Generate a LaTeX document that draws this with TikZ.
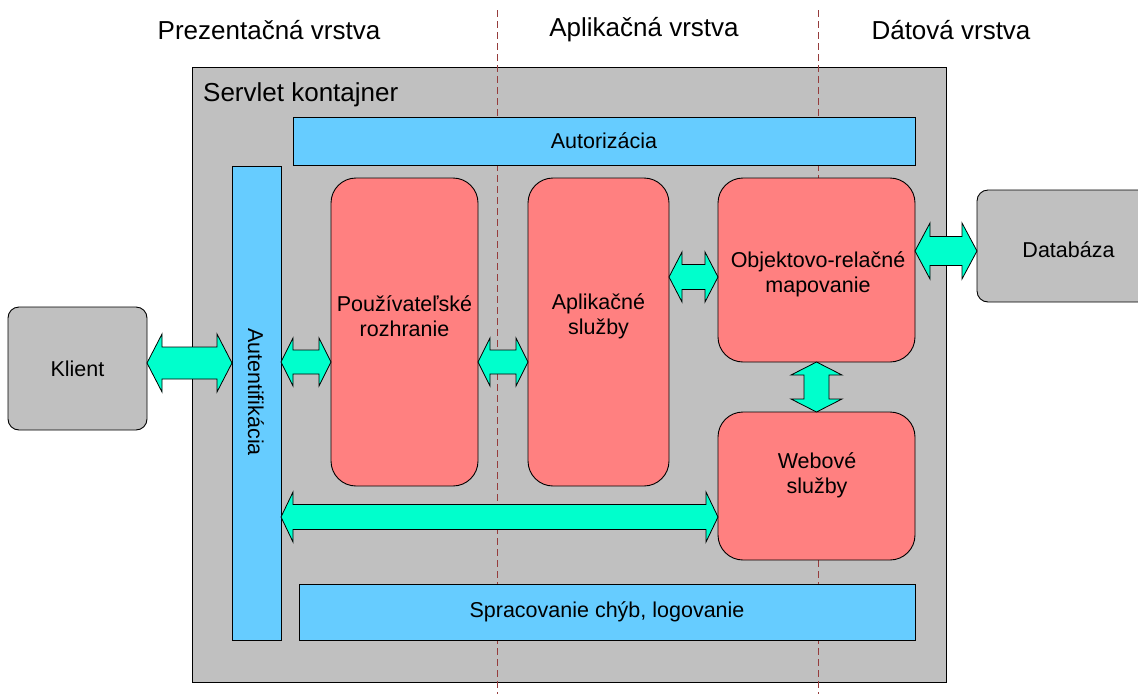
\documentclass[tikz,border=0pt]{standalone}
\usepackage{fontspec}
\setmainfont{Liberation Sans}
\usetikzlibrary{calc}
\definecolor{contgray}{RGB}{192,192,192}
\definecolor{barblue}{RGB}{102,204,255}
\definecolor{modpink}{RGB}{255,128,128}
\definecolor{linkteal}{RGB}{0,255,204}
\definecolor{tierred}{RGB}{150,60,60}
\tikzset{
  box/.style={draw=black, line width=0.9pt, inner sep=0pt, outer sep=0pt,
    align=center, font=\fontsize{21.5}{25}\selectfont},
  container/.style={box, fill=contgray},
  bar/.style={box, fill=barblue},
  module/.style={box, fill=modpink, rounded corners=25pt},
  actor/.style={box, fill=contgray, rounded corners=11pt},
  label/.style={inner sep=0pt, font=\fontsize{21.5}{25}\selectfont, align=center},
  header/.style={inner sep=0pt, font=\fontsize{26}{30}\selectfont},
  tier/.style={draw=tierred, line width=0.9pt, dash pattern=on 7pt off 4pt},
  link/.style={draw=black, line width=0.8pt, fill=linkteal, line join=miter},
  % horizontal double arrow: #1 shaft half width, #2 head half width, #3 head length
  hlink/.style n args={3}{link, to path={
    let \p1=(\tikztostart), \p2=(\tikztotarget) in
    (\x1,\y1) -- (\x1+#3pt,\y1+#2pt) -- (\x1+#3pt,\y1+#1pt)
    -- (\x2-#3pt,\y1+#1pt) -- (\x2-#3pt,\y1+#2pt) -- (\x2,\y1)
    -- (\x2-#3pt,\y1-#2pt) -- (\x2-#3pt,\y1-#1pt)
    -- (\x1+#3pt,\y1-#1pt) -- (\x1+#3pt,\y1-#2pt) -- cycle}},
  % vertical double arrow, start above target
  vlink/.style n args={3}{link, to path={
    let \p1=(\tikztostart), \p2=(\tikztotarget) in
    (\x1,\y1) -- (\x1+#2pt,\y1-#3pt) -- (\x1+#1pt,\y1-#3pt)
    -- (\x1+#1pt,\y2+#3pt) -- (\x1+#2pt,\y2+#3pt) -- (\x1,\y2)
    -- (\x1-#2pt,\y2+#3pt) -- (\x1-#1pt,\y2+#3pt)
    -- (\x1-#1pt,\y1-#3pt) -- (\x1-#2pt,\y1-#3pt) -- cycle}},
}
\begin{document}
\begin{tikzpicture}[x=1pt, y=-1pt]
\useasboundingbox (0,0) rectangle (1138,694);
\fill[white] (0,0) rectangle (1138,694);

% tier headings
\node[header] (hpres) at (269,30) {Prezentačná vrstva};
\node[header] (happ)  at (644,30) {Aplikačná vrstva};
\node[header] (hdata) at (951,30) {Dátová vrstva};

% servlet container
\node[container, minimum width=754pt, minimum height=615pt] (cont) at (569,374.5) {};
\node[header, anchor=west] (conttitle) at (203,95) {Servlet kontajner};

% tier boundaries
\coordinate (t1top) at (497,10);
\coordinate (t1bot) at (497,694);
\coordinate (t2top) at (818,10);
\coordinate (t2bot) at (818,694);
\draw[tier] (t1top) -- (t1bot);
\draw[tier] (t2top) -- (t2bot);

% cross-cutting bars
\node[bar, minimum width=622pt, minimum height=48pt] (autor) at (604,141) {Autorizácia};
\node[bar, minimum width=49pt, minimum height=474pt] (autent) at (256.5,403) {};
\node[label, rotate=-90] (autenttext) at (256,392) {Autentifikácia};
\node[bar, minimum width=616pt, minimum height=56pt] (err) at (607,612) {Spracovanie chýb, logovanie};

% application modules
\node[module, minimum width=147pt, minimum height=308pt] (ui) at (404.5,332) {};
\node[label] (uitext) at (404.5,316) {Používateľské\\rozhranie};
\node[module, minimum width=141pt, minimum height=308pt] (app) at (598.5,332) {};
\node[label] (apptext) at (598.5,316) {Aplikačné\\služby};
\node[module, minimum width=197pt, minimum height=184pt] (orm) at (816.5,270) {};
\node[label] (ormtext) at (818,274) {Objektovo-relačné\\mapovanie};
\node[module, minimum width=197pt, minimum height=148pt] (web) at (816.5,486) {};
\node[label] (webtext) at (817,475) {Webové\\služby};

% external actors
\node[actor, minimum width=139pt, minimum height=123pt] (klient) at (77.5,368.5) {Klient};
\node[actor, minimum width=183pt, minimum height=112pt] (db) at (1068.5,246) {};
\node[label] (dbtext) at (1068.5,250) {Databáza};

% communication links
\draw[hlink={16}{29}{15}] (klient.east |- 0,363) to (autent.west |- 0,363);
\draw[hlink={12}{24}{12}] (autent.east |- 0,362) to (ui.west |- 0,362);
\draw[hlink={12}{24}{12}] (ui.east |- 0,362) to (app.west |- 0,362);
\draw[hlink={12.5}{25}{13}] (app.east |- 0,277) to (orm.west |- 0,277);
\draw[vlink={12.5}{25.5}{13}] (orm.south) to (web.north);
\draw[hlink={14.5}{28}{15}] (orm.east |- 0,251) to (db.west |- 0,251);
\draw[hlink={12.5}{25}{12}] (autent.east |- 0,517) to (web.west |- 0,517);
\end{tikzpicture}
\end{document}
